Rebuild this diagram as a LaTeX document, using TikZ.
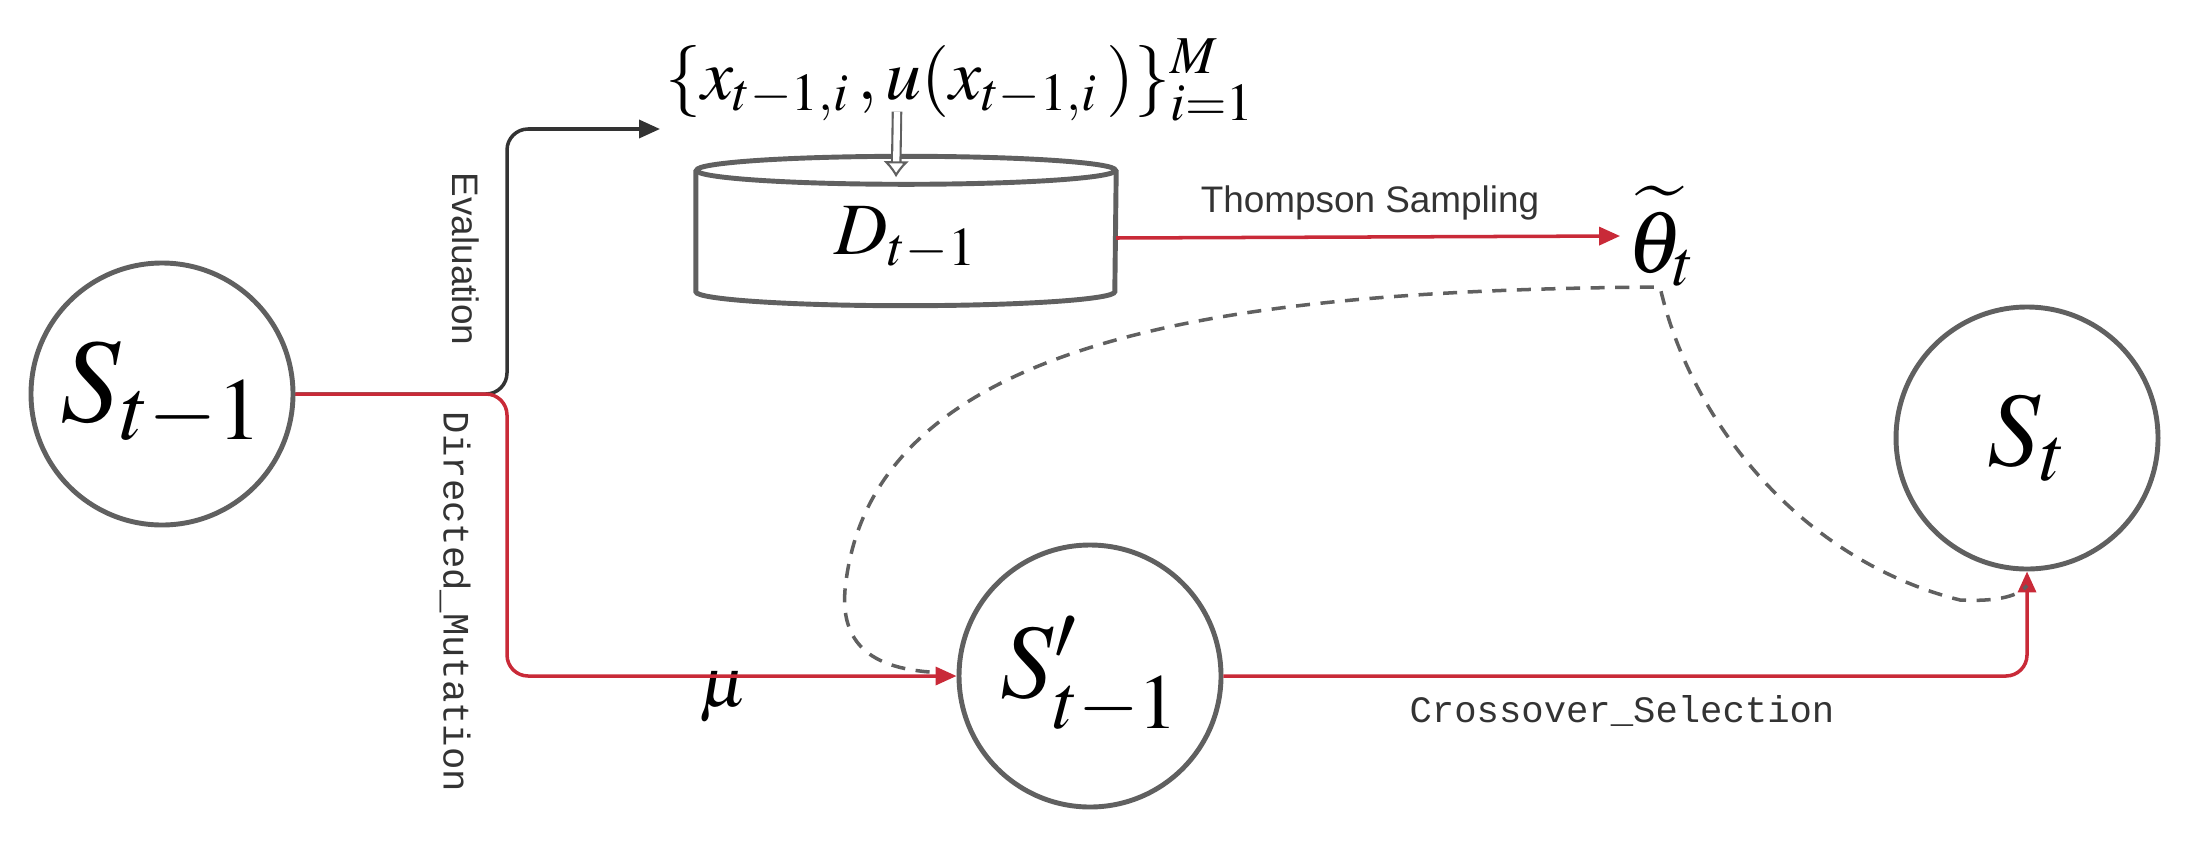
\documentclass[tikz,border=0pt]{standalone}
\usepackage{mathptmx}
\usepackage[no-math]{fontspec}
\setmainfont{Liberation Serif}
\setsansfont{Liberation Sans}
\setmonofont{Liberation Mono}
\usepackage{tikz}
\usetikzlibrary{arrows.meta, positioning, calc}
\definecolor{flowred}{RGB}{201, 42, 56}
\definecolor{ringgray}{RGB}{96, 96, 96}
\definecolor{inkgray}{RGB}{51, 51, 51}

\begin{document}
\begin{tikzpicture}[x=0.1mm, y=0.1mm,
    state/.style={circle, draw=ringgray, line width=1.4pt, minimum size=26.2mm, inner sep=0pt},
    flow/.style={draw=flowred, line width=1pt, rounded corners=6pt},
    flowtip/.style={-{Triangle[length=2.1mm, width=1.8mm]}},
    lbl/.style={text=inkgray, font=\sffamily\fontsize{10.5}{12}\selectfont},
    code/.style={text=inkgray, font=\ttfamily\fontsize{10.6}{12}\selectfont}]
  \useasboundingbox (0,0) rectangle (2196,-842);

  % states
  \node[state, font=\fontsize{34}{40}\selectfont] (prev) at (162,-394) {$S_{t-1}$};
  \node[state, font=\fontsize{30}{36}\selectfont] (mut) at (1090,-676) {$S'_{t-1}$};
  \node[state, font=\fontsize{30}{36}\selectfont] (next) at (2027,-438) {$S_t$};

  % data store D_{t-1}
  \node[inner sep=0pt, minimum width=41.9mm, minimum height=13.4mm, font=\fontsize{21}{25}\selectfont] (db) at (906,-238) {$D_{t-1}$};
  \draw[ringgray, line width=1.4pt] (db.north west) -- ([yshift=1.4mm]db.south west)
    arc[start angle=180, end angle=360, x radius=20.95mm, y radius=1.4mm] -- (db.north east);
  \draw[ringgray, line width=1.4pt, fill=white] (db.north) ellipse[x radius=20.95mm, y radius=1.4mm];

  \node[font=\fontsize{20.5}{24}\selectfont] (setlbl) at (960,-80) {$\{x_{t-1,i}\,,u(x_{t-1,i}\,)\}_{i=1}^{M}$};
  \node[font=\fontsize{25}{30}\selectfont, inner sep=2pt] (theta) at (1662,-236) {$\widetilde{\theta}_t$};
  \node[font=\fontsize{20}{24}\selectfont] (mu) at (724,-697) {$\mu$};

  \coordinate (split) at (507,-394);
  \coordinate (evaltip) at (660,-129);
  \coordinate (bend) at (1660,-287);

  % connectors
  \draw[inkgray, line width=1pt, rounded corners=6pt, flowtip] (prev.east) -- (split) |- (evaltip);
  \draw[flow, flowtip] (prev.east) -- (split) |- (mut.west);
  \draw[flow, flowtip] (mut.east) -| (next.south);
  \draw[flow, flowtip] (db.east) -- (theta.west);
  \draw[ringgray, line width=0.6pt, double=white, double distance=1.8pt, -{Latex[open, length=1.6mm, width=2.6mm]}]
    ([xshift=-6.3mm, yshift=2.2mm]setlbl.south) -- ([xshift=-1mm, yshift=-0.7mm]db.north);
  \draw[ringgray, line width=1pt, dash pattern=on 4pt off 3pt]
    ([xshift=-2.7mm, yshift=0.4mm]mut.west) .. controls (880,-668) and (840,-650) .. (845,-590)
    .. controls (870,-330) and (1250,-290) .. (bend)
    .. controls (1690,-420) and (1800,-560) .. (1960,-600)
    .. controls (2000,-602) and (2020,-595) .. ([yshift=-1.4mm]next.south);

  % labels
  \node[lbl] (tslbl) at (1370,-203) {Thompson Sampling};
  \node[lbl, rotate=-90] (evallbl) at (466,-259) {Evaluation};
  \node[code, rotate=-90] (dmlbl) at (455,-602) {Directed\_Mutation};
  \node[code] (cslbl) at (1622,-711) {Crossover\_Selection};
\end{tikzpicture}
\end{document}
